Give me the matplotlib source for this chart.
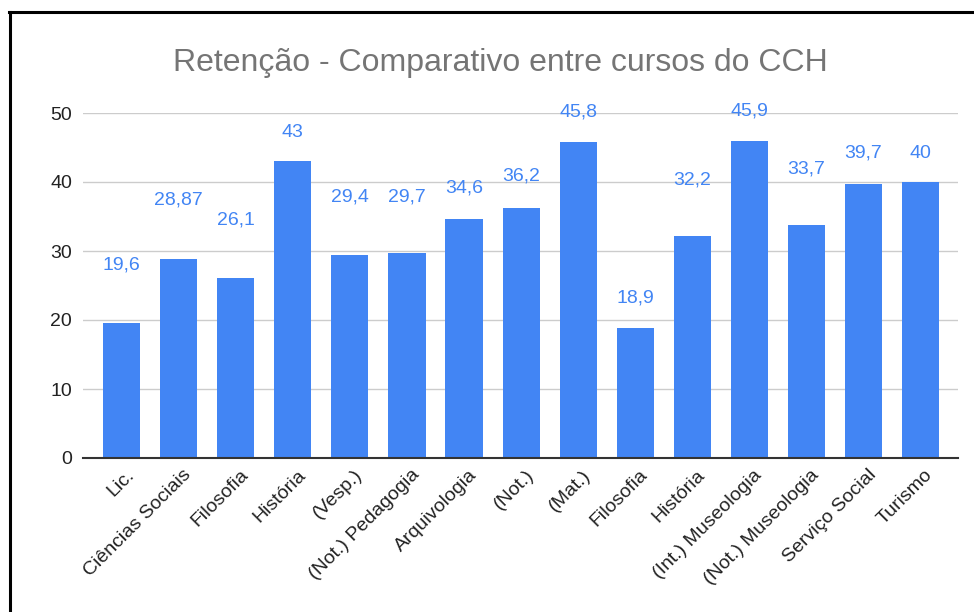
import matplotlib.pyplot as plt
from matplotlib.lines import Line2D
from matplotlib.transforms import ScaledTranslation

plt.rcParams['font.family'] = ['Liberation Sans', 'DejaVu Sans']

cursos = ['Lic.', 'Ciências Sociais', 'Filosofia', 'História', '(Vesp.)',
          '(Not.) Pedagogia', 'Arquivologia', '(Not.)', '(Mat.)', 'Filosofia',
          'História', '(Int.) Museologia', '(Not.) Museologia', 'Serviço Social',
          'Turismo']
retencao = [19.6, 28.87, 26.1, 43, 29.4, 29.7, 34.6, 36.2, 45.8, 18.9,
            32.2, 45.9, 33.7, 39.7, 40]
rotulos = ['19,6', '28,87', '26,1', '43', '29,4', '29,7', '34,6', '36,2',
           '45,8', '18,9', '32,2', '45,9', '33,7', '39,7', '40']
# label lift above bar top, in pixels (Sheets pushes some labels up)
lift = [58, 59, 58, 29, 58, 56, 31, 32, 30, 30, 56, 30, 56, 31, 29]

azul = '#4285F4'

fig = plt.figure(figsize=(9.74, 6.12), dpi=100)
ax = fig.add_axes([83/974, 1-458/612, (958-83)/974, (458-113)/612])

x = range(len(cursos))
ax.bar(x, retencao, width=0.65, color=azul, zorder=3)
for i, v in enumerate(retencao):
    ax.annotate(rotulos[i], (i, v), xytext=(0, lift[i]*0.72), textcoords='offset points',
                ha='center', va='center', color=azul, fontsize=14)

ax.set_ylim(0, 50)
ax.set_xlim(-0.68, 14.66)
ax.set_yticks([0, 10, 20, 30, 40, 50])
ax.yaxis.grid(True, color='#cccccc', linewidth=1, zorder=0)
ax.tick_params(axis='both', length=0, labelsize=14, colors='#222222')
ax.tick_params(axis='y', pad=8)
for s in ['top', 'right', 'left']:
    ax.spines[s].set_visible(False)
ax.spines['bottom'].set_color('#333333')
ax.spines['bottom'].set_linewidth(1.5)
ax.spines['bottom'].set_zorder(4)

ax.set_xticks(list(x))
ax.set_xticklabels(cursos, rotation=45, ha='right', va='top', rotation_mode='anchor')
ax.tick_params(axis='x', pad=6)
shift = ScaledTranslation(4/100, 0, fig.dpi_scale_trans)
for lbl in ax.get_xticklabels():
    lbl.set_transform(lbl.get_transform() + shift)

fig.text(500/974, 1-63/612, 'Retenção - Comparativo entre cursos do CCH',
         ha='center', va='center', fontsize=23, color='#757575')

fig.add_artist(Line2D([10/974, 10/974], [0, 1-12/612], transform=fig.transFigure,
                      color='black', linewidth=2.2))
fig.add_artist(Line2D([9/974, 1], [1-12/612, 1-12/612], transform=fig.transFigure,
                      color='black', linewidth=2.2))

fig.savefig('out.png', dpi=100)
